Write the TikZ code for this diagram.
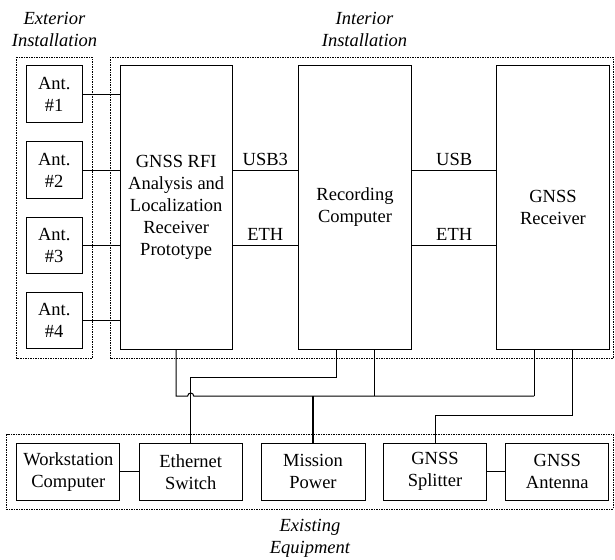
\documentclass[tikz,border=0pt]{standalone}
\usepackage{fontspec}
\IfFontExistsTF{LiberationSerif-Regular.ttf}{%
  \setmainfont{LiberationSerif}[Extension=.ttf, UprightFont=*-Regular, ItalicFont=*-Italic, BoldFont=*-Bold, BoldItalicFont=*-BoldItalic]}{%
  \setmainfont{Liberation Serif}}
\begin{document}
\begin{tikzpicture}[x=1pt,y=-1pt,
  box/.style={draw, line width=1pt, inner sep=0pt, align=center, font=\rmfamily\fontsize{18.5}{22}\selectfont},
  grp/.style={draw, line width=0.9pt, dash pattern=on 1.5pt off 1pt},
  wire/.style={line width=1pt},
  lbl/.style={font=\rmfamily\fontsize{18.5}{22}\selectfont, inner sep=0pt},
  grplabel/.style={font=\rmfamily\fontsize{18.5}{22}\selectfont\itshape, align=center, inner sep=0pt}]
\useasboundingbox (0,0) rectangle (615,559);
% groups
\draw[grp] (16.7,57) rectangle (92.3,358.3);
\draw[grp] (110,57) rectangle (613,358.3);
\draw[grp] (6.7,434) rectangle (613,509.3);
\node[grplabel] (lext) at (54.5,29) {Exterior\\Installation};
\node[grplabel] (lint) at (364.5,29) {Interior\\Installation};
\node[grplabel] (lexi) at (310,538.6) {Existing\\Equipment};
% antennas
\node[box, minimum width=56.3pt, minimum height=56.4pt] (a1) at (54.2,94.2) {Ant.\\\#1};
\node[box, minimum width=56.3pt, minimum height=56.4pt] (a2) at (54.2,170) {Ant.\\\#2};
\node[box, minimum width=56.3pt, minimum height=56.4pt] (a3) at (54.2,245.2) {Ant.\\\#3};
\node[box, minimum width=56.3pt, minimum height=56.4pt] (a4) at (54.2,320.7) {Ant.\\\#4};
% main boxes
\node[box, minimum width=112.3pt, minimum height=283pt] (rfi) at (176.2,207.5) {GNSS RFI\\Analysis and\\Localization\\Receiver\\Prototype};
\node[box, minimum width=113.4pt, minimum height=283pt] (rec) at (355,207.5) {Recording\\Computer};
\node[box, minimum width=112.6pt, minimum height=283pt] (rcv) at (553,207.5) {GNSS\\Receiver};
% bottom boxes
\node[box, minimum width=103.3pt, minimum height=56.7pt] (ws) at (68.3,471.7) {Workstation\\Computer};
\node[box, minimum width=103.3pt, minimum height=56.7pt] (es) at (190.7,471.7) {Ethernet\\Switch};
\node[box, minimum width=104pt, minimum height=56.7pt] (mp) at (313,471.7) {Mission\\Power};
\node[box, minimum width=103.4pt, minimum height=56.7pt] (gs) at (435,471.7) {GNSS\\Splitter};
\node[box, minimum width=103.3pt, minimum height=56.7pt] (ga) at (557.3,471.7) {GNSS\\Antenna};
% antenna links
\foreach \a in {a1,a2,a3,a4}{
  \draw[wire] (\a.east) -- (\a.east -| rfi.west);
}
% data links
\draw[wire] (a2.east -| rfi.east) -- node[lbl, anchor=base, yshift=5pt] (t1) {USB3} (a2.east -| rec.west);
\draw[wire] (a3.east -| rfi.east) -- node[lbl, anchor=base, yshift=5pt] (t2) {ETH} (a3.east -| rec.west);
\draw[wire] (a2.east -| rec.east) -- node[lbl, anchor=base, yshift=5pt] (t3) {USB} (a2.east -| rcv.west);
\draw[wire] (a3.east -| rec.east) -- node[lbl, anchor=base, yshift=5pt] (t4) {ETH} (a3.east -| rcv.west);
% power bus
\coordinate (hop) at (es.north |- 0,396);
\draw[wire] (rfi.south) |- ([xshift=-3pt]hop) arc[start angle=180, end angle=360, radius=3] -- ([xshift=-19pt]rcv.south |- hop);
\draw[wire] ([xshift=19pt]rec.south) -- ([xshift=19pt]rec.south |- hop);
\draw[wire] ([xshift=-19pt]rcv.south) -- ([xshift=-19pt]rcv.south |- hop);
\draw[line width=1.6pt] (mp.north) -- (mp.north |- hop);
% ethernet
\draw[wire] ([xshift=-19pt]rec.south) -- ++(0,28.3) -| (es.north);
% gnss splitter
\draw[wire] ([xshift=19pt]rcv.south) -- ++(0,66) -| (gs.north);
% bottom links
\draw[wire] (ws.east) -- (es.west);
\draw[wire] (gs.east) -- (ga.west);
\end{tikzpicture}
\end{document}
